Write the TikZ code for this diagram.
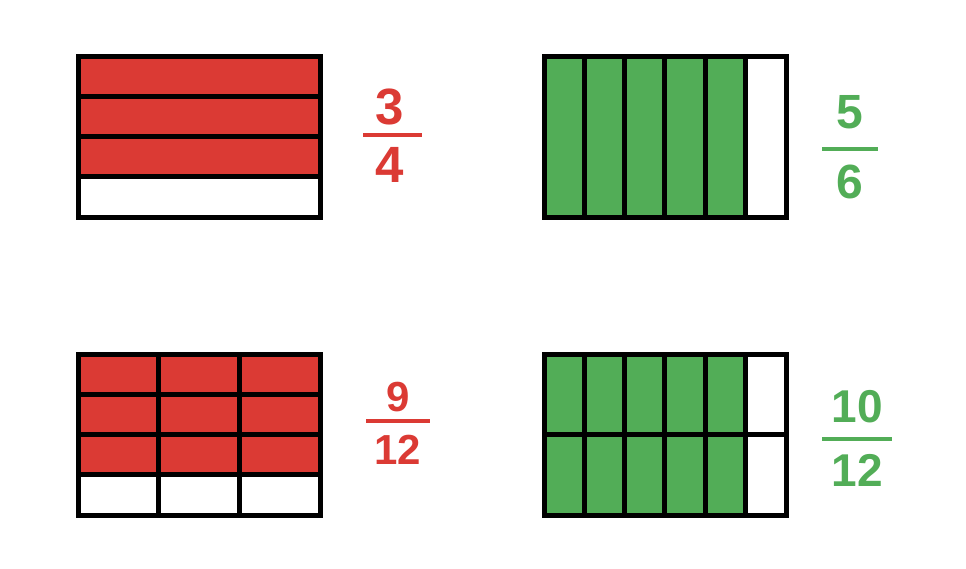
\documentclass[tikz,border=0pt]{standalone}
\usepackage{fontspec}
\setmainfont{Liberation Sans}
\definecolor{fracred}{HTML}{DB3A34}
\definecolor{fracgreen}{HTML}{52AD57}
\begin{document}
\begin{tikzpicture}[
    x=1pt, y=-1pt,
    grid line/.style={line width=5pt},
    frac bar/.style={line width=4pt},
    digit/.style={inner sep=0pt, font=\bfseries\fontsize{#1}{#1}\selectfont},
  ]
  \useasboundingbox (0,0) rectangle (966,568);

  % 3/4 in rows
  \fill[fracred] (78,56) rectangle (320,176.75);
  \foreach \y in {96.25,136.5,176.75}
    \draw[grid line] (78,\y) -- (320,\y);
  \draw[grid line] (78,56) rectangle (320,217);
  \node (num34) at (390,106.5) [digit=51, text=fracred] {3};
  \node (den34) at (390,164.5) [digit=51, text=fracred] {4};
  \draw[frac bar, fracred] (363,135) -- (422,135);

  % 5/6 in columns
  \fill[fracgreen] (544,56) rectangle (745.3,217);
  \foreach \x in {584.3,624.6,664.9,705.1,745.3}
    \draw[grid line] (\x,56) -- (\x,217);
  \draw[grid line] (544,56) rectangle (786,217);
  \node (num56) at (850,112.5) [digit=48, text=fracgreen] {5};
  \node (den56) at (850,181.5) [digit=48, text=fracgreen] {6};
  \draw[frac bar, fracgreen] (822,149) -- (878,149);

  % 9/12 in rows and columns
  \fill[fracred] (78,354) rectangle (320,474.75);
  \foreach \y in {394.25,434.5,474.75}
    \draw[grid line] (78,\y) -- (320,\y);
  \foreach \x in {158.7,239.3}
    \draw[grid line] (\x,354) -- (\x,515);
  \draw[grid line] (78,354) rectangle (320,515);
  \node (num912) at (398,397) [digit=42, text=fracred] {9};
  \node (den912) at (398,450) [digit=42, text=fracred] {12};
  \draw[frac bar, fracred] (366,421) -- (430,421);

  % 10/12 in columns and two rows
  \fill[fracgreen] (544,354) rectangle (745.3,515);
  \foreach \x in {584.3,624.6,664.9,705.1,745.3}
    \draw[grid line] (\x,354) -- (\x,515);
  \draw[grid line] (544,434.5) -- (786,434.5);
  \draw[grid line] (544,354) rectangle (786,515);
  \node (num1012) at (857,406.5) [digit=46, text=fracgreen] {10};
  \node (den1012) at (857,470) [digit=46, text=fracgreen] {12};
  \draw[frac bar, fracgreen] (822,439) -- (892,439);
\end{tikzpicture}
\end{document}
